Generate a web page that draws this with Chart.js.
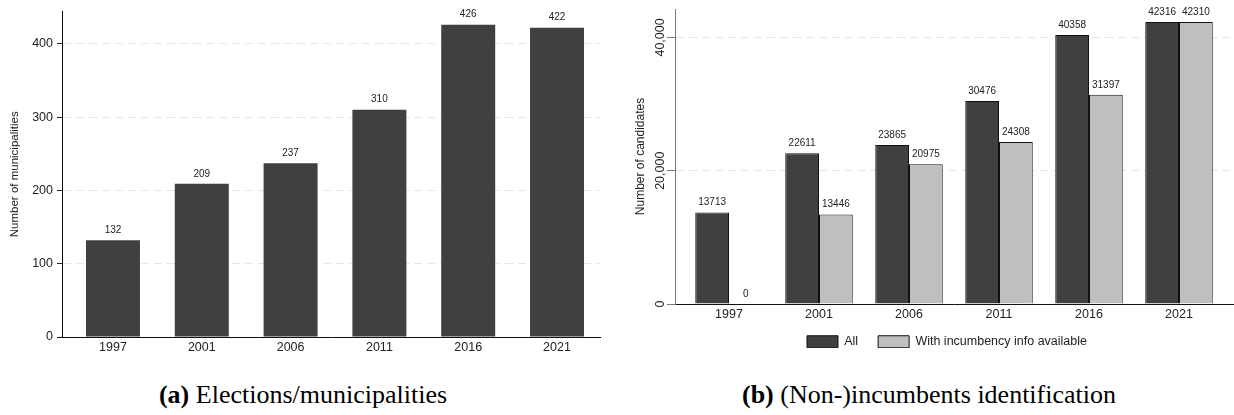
<!DOCTYPE html>
<html>
<head>
<meta charset="utf-8">
<title>Elections and candidates</title>
<script src="https://cdn.jsdelivr.net/npm/chart.js@4/dist/chart.umd.min.js"></script>
<style>
  html, body { margin: 0; padding: 0; background: #fff; width: 1234px; height: 415px; overflow: hidden; }
  .panel { position: absolute; top: 0; }
  #panelA { left: 0; width: 617px; height: 360px; }
  #panelB { left: 617px; width: 617px; height: 358px; }
  .caption {
    position: absolute; top: 380px; line-height: 30px;
    font-family: "Liberation Serif", "Times New Roman", serif; font-size: 26px; color: #000;
    white-space: nowrap; transform: translateX(-50%);
  }
  #capA { left: 303px; }
  #capB { left: 929px; }
</style>
</head>
<body>
<div class="panel" id="panelA"><canvas id="chartA" width="617" height="360"></canvas></div>
<div class="panel" id="panelB"><canvas id="chartB" width="617" height="358"></canvas></div>
<div class="caption" id="capA"><b>(a)</b> Elections/municipalities</div>
<div class="caption" id="capB"><b>(b)</b> (Non-)incumbents identification</div>

<script>
// Election years and counts
const years = ['1997', '2001', '2006', '2011', '2016', '2021'];
const municipalities = [132, 209, 237, 310, 426, 422];
const candidatesAll = [13713, 22611, 23865, 30476, 40358, 42316];
const candidatesWithInfo = [0, 13446, 20975, 24308, 31397, 42310];

// Value axis tick marks
const municipalityTicks = [0, 100, 200, 300, 400];
const candidateTicks = [0, 20000, 40000];

const SANS = '"Liberation Sans", Arial, Helvetica, sans-serif';
Chart.defaults.font.family = SANS;
Chart.defaults.color = '#222';

const DARK = '#404040';
const LIGHT = '#bfbfbf';

// Pair each value with its year index on the linear x scale
const asPoints = arr => arr.map((v, i) => ({ x: i, y: v }));

// Writes each bar's value just above it
const valueLabels = {
  id: 'valueLabels',
  afterDatasetsDraw(chart, args, opts) {
    const ctx = chart.ctx;
    ctx.save();
    ctx.font = '10px ' + SANS;
    ctx.fillStyle = '#222';
    ctx.textAlign = 'center';
    ctx.textBaseline = 'middle';
    chart.data.datasets.forEach((ds, di) => {
      chart.getDatasetMeta(di).data.forEach((bar, i) => {
        ctx.fillText(String(ds.data[i].y), bar.x, bar.y - opts.offset);
      });
    });
    ctx.restore();
  }
};

// Nudges the legend box so it sits centred under the plot
const legendShift = {
  id: 'legendShift',
  afterLayout(chart, args, opts) {
    const lg = chart.legend;
    if (!lg) return;
    lg.left += opts.dx || 0; lg.right += opts.dx || 0;
    lg.top += opts.dy || 0; lg.bottom += opts.dy || 0;
  }
};

const yearAxis = (min, max, height, pad) => ({
  type: 'linear',
  offset: false,
  min: min,
  max: max,
  afterBuildTicks: s => { s.ticks = years.map((_, i) => ({ value: i })); },
  afterFit: s => { s.height = height; },
  grid: { display: false, drawTicks: false, offset: false },
  border: { display: true, color: '#111', width: 1 },
  ticks: {
    autoSkip: false, maxRotation: 0, minRotation: 0, padding: pad,
    color: '#222', font: { size: 12.5 },
    callback: v => years[v]
  }
});

// (a) municipalities holding elections
new Chart(document.getElementById('chartA'), {
  type: 'bar',
  data: {
    datasets: [{
      label: 'Municipalities',
      data: asPoints(municipalities),
      backgroundColor: DARK,
      borderWidth: 0,
      barPercentage: 0.608,
      categoryPercentage: 1
    }]
  },
  options: {
    responsive: false,
    animation: false,
    layout: { padding: { top: 9, right: 17, bottom: 0, left: 0 } },
    plugins: {
      legend: { display: false },
      tooltip: { enabled: false },
      valueLabels: { offset: 10 }
    },
    scales: {
      x: yearAxis(-0.574, 5.484, 23, 3),
      y: {
        min: 0,
        max: 444,
        afterBuildTicks: s => { s.ticks = municipalityTicks.map(v => ({ value: v })); },
        afterFit: s => { s.width = 62; },
        border: { display: true, color: '#111', width: 1, dash: [8, 5] },
        grid: { color: '#e6e6e6', lineWidth: 1, drawTicks: true, tickLength: 5, tickColor: '#222', tickWidth: 1, tickBorderDash: [] },
        ticks: { color: '#222', font: { size: 12.5 }, padding: 4 },
        title: {
          display: true, text: 'Number of municipalities', color: '#222',
          font: { size: 11.5 }, padding: { top: 8, bottom: 0 }
        }
      }
    }
  },
  plugins: [valueLabels]
});

// (b) candidates, all vs. with incumbency info
new Chart(document.getElementById('chartB'), {
  type: 'bar',
  data: {
    datasets: [{
      label: 'All',
      data: asPoints(candidatesAll),
      backgroundColor: DARK,
      borderColor: '#111',
      borderWidth: 1,
      barPercentage: 1,
      categoryPercentage: 0.75
    }, {
      label: 'With incumbency info available',
      data: asPoints(candidatesWithInfo),
      backgroundColor: LIGHT,
      borderColor: '#111',
      borderWidth: 1,
      barPercentage: 1,
      categoryPercentage: 0.75
    }]
  },
  options: {
    responsive: false,
    animation: false,
    layout: { padding: { top: 9, right: 1, bottom: 0, left: 0 } },
    plugins: {
      legend: {
        display: true,
        position: 'bottom',
        maxHeight: 32.5,
        labels: { boxWidth: 31, boxHeight: 12, padding: 20, color: '#222', font: { size: 12.5 } }
      },
      tooltip: { enabled: false },
      valueLabels: { offset: 10 },
      legendShift: { dx: 22, dy: -10 }
    },
    scales: {
      x: yearAxis(-0.6, 5.6, 21.5, 3),
      y: {
        min: 0,
        max: 44270,
        afterBuildTicks: s => { s.ticks = candidateTicks.map(v => ({ value: v })); },
        afterFit: s => { s.width = 58; },
        border: { display: true, color: '#7a7a7a', width: 1, dash: [8, 5] },
        grid: { color: '#e6e6e6', lineWidth: 1, drawTicks: true, tickLength: 8, tickColor: '#7a7a7a', tickWidth: 1, tickBorderDash: [] },
        ticks: {
          color: '#222', font: { size: 12.5 }, padding: -13,
          minRotation: 90, maxRotation: 90, crossAlign: 'center',
          callback: v => v.toLocaleString('en-US')
        },
        title: {
          display: true, text: 'Number of candidates', color: '#222',
          font: { size: 12 }, padding: { top: 16, bottom: 0 }
        }
      }
    }
  },
  plugins: [valueLabels, legendShift]
});
</script>
</body>
</html>
